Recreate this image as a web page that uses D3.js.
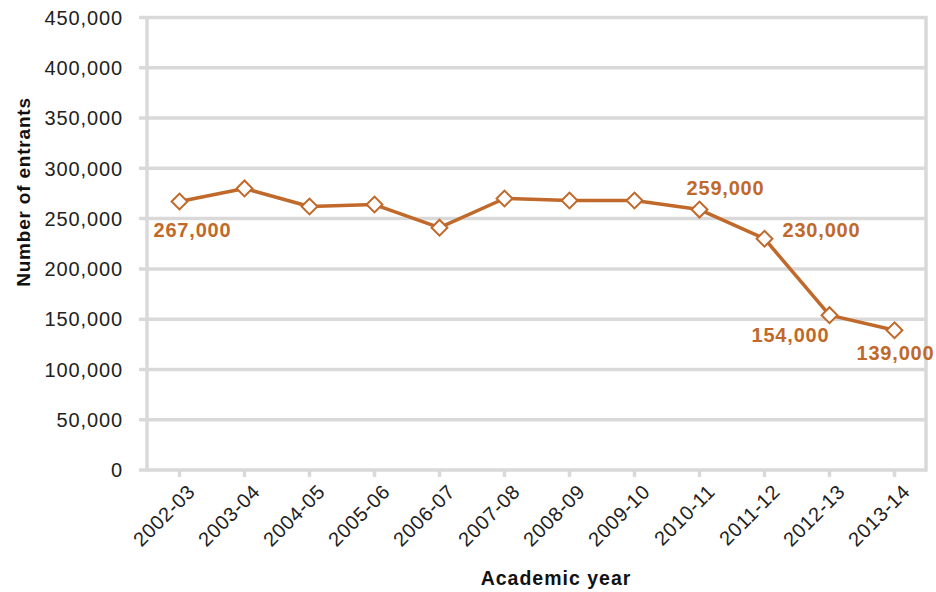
<!DOCTYPE html>
<html><head><meta charset="utf-8">
<script src="https://cdn.jsdelivr.net/npm/d3@7"></script>
<style>body{margin:0;background:#fff;}svg{display:block;font-family:"Liberation Sans",Arial,sans-serif;}</style>
</head><body><svg id="c" width="936" height="592"></svg>
<script>
const categories = ["2002-03","2003-04","2004-05","2005-06","2006-07","2007-08","2008-09","2009-10","2010-11","2011-12","2012-13","2013-14"];
const entrants = [267000,280000,262000,264000,241000,270000,268000,268000,259000,230000,154000,139000];
const yTicks = [0,50000,100000,150000,200000,250000,300000,350000,400000,450000];
const labelled = [
  {i:0, text:"267,000", dx:-26, dy:28, anchor:"start"},
  {i:8, text:"259,000", dx:26, dy:-21.5, anchor:"middle"},
  {i:9, text:"230,000", dx:18, dy:-9, anchor:"start"},
  {i:10, text:"154,000", dx:-78, dy:19.5, anchor:"start"},
  {i:11, text:"139,000", dx:-38, dy:23, anchor:"start"}
];
const color = "#c0692a", grid = "#d9d9d9";
const svg = d3.select("#c");
const L=147, R=927, T=17.5, B=470;
const x = d3.scaleBand().domain(categories).range([L,R]);
const y = d3.scaleLinear().domain([0,450000]).range([B,T]);
const fmt = d3.format(",");

svg.append("g").selectAll("line").data(yTicks).join("line")
  .attr("x1",139).attr("x2",R).attr("y1",d=>y(d)).attr("y2",d=>y(d))
  .attr("stroke",grid).attr("stroke-width",3.5);
svg.append("line").attr("x1",L).attr("x2",L).attr("y1",T-1.5).attr("y2",B+1.5).attr("stroke",grid).attr("stroke-width",3.5);
svg.append("line").attr("x1",R-1).attr("x2",R-1).attr("y1",T-1.5).attr("y2",B+1.5).attr("stroke",grid).attr("stroke-width",3.5);
svg.append("g").selectAll("line").data(categories).join("line")
  .attr("x1",d=>x(d)+x.bandwidth()/2).attr("x2",d=>x(d)+x.bandwidth()/2)
  .attr("y1",B).attr("y2",B+7).attr("stroke",grid).attr("stroke-width",3.5);

svg.append("g").selectAll("text").data(yTicks).join("text")
  .attr("x",123).attr("y",d=>y(d)).attr("dy","0.36em").attr("text-anchor","end")
  .attr("font-size",20).attr("letter-spacing",0.9).attr("fill","#222").text(d=>fmt(d));
svg.append("g").selectAll("text").data(categories).join("text")
  .attr("transform",d=>`translate(${x(d)+x.bandwidth()/2+7},${B+13}) rotate(-45)`)
  .attr("text-anchor","end").attr("dy","0.7em")
  .attr("font-size",20).attr("letter-spacing",0.6).attr("fill","#222").text(d=>d);

svg.append("text").attr("transform","translate(30,192) rotate(-90)").attr("text-anchor","middle")
  .attr("font-size",19).attr("letter-spacing",0.8).attr("font-weight","bold").attr("fill","#111").text("Number of entrants");
svg.append("text").attr("x",556).attr("y",585).attr("text-anchor","middle")
  .attr("font-size",19.5).attr("letter-spacing",1).attr("font-weight","bold").attr("fill","#111").text("Academic year");

const cx = (d,i)=>x(categories[i])+x.bandwidth()/2;
svg.append("path").datum(entrants)
  .attr("d",d3.line().x(cx).y(d=>y(d)))
  .attr("fill","none").attr("stroke",color).attr("stroke-width",3.5).attr("stroke-linejoin","round");
svg.append("g").selectAll("path").data(entrants).join("path")
  .attr("d",d3.symbol(d3.symbolSquare,125)())
  .attr("transform",(d,i)=>`translate(${cx(d,i)},${y(d)}) rotate(45)`)
  .attr("fill","#fff").attr("stroke",color).attr("stroke-width",2);
svg.append("g").selectAll("text").data(labelled).join("text")
  .attr("x",d=>cx(null,d.i)+d.dx).attr("y",d=>y(entrants[d.i])+d.dy).attr("dy","0.36em")
  .attr("text-anchor",d=>d.anchor)
  .attr("font-size",20).attr("letter-spacing",0.8).attr("font-weight","bold").attr("fill",color).text(d=>d.text);
</script></body></html>
